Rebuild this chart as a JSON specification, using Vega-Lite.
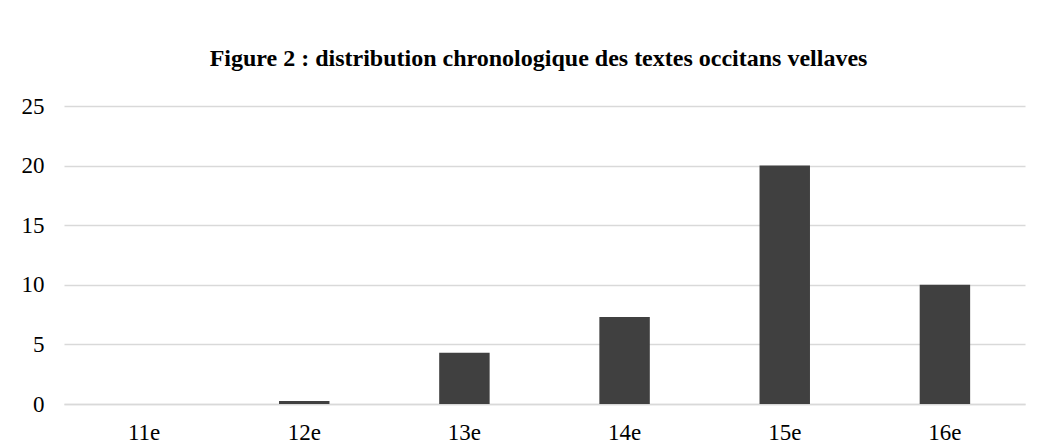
{
  "$schema": "https://vega.github.io/schema/vega-lite/v6.json",
  "autosize": "none",
  "width": 961,
  "height": 298,
  "padding": {"left": 64, "top": 106, "right": 16, "bottom": 44},
  "background": "white",
  "config": {"view": {"stroke": null}, "font": "Times New Roman, Liberation Serif, serif"},
  "title": {
    "text": "Figure 2 : distribution chronologique des textes occitans vellaves",
    "font": "Times New Roman, Liberation Serif, serif",
    "fontSize": 24,
    "fontWeight": "bold",
    "color": "#000000",
    "anchor": "middle",
    "dx": -6,
    "offset": 5,
    "baseline": "alphabetic"
  },
  "data": {
    "values": [
      {"siecle": "11e", "textes": 0},
      {"siecle": "12e", "textes": 0.25},
      {"siecle": "13e", "textes": 4.3},
      {"siecle": "14e", "textes": 7.3},
      {"siecle": "15e", "textes": 20},
      {"siecle": "16e", "textes": 10}
    ]
  },
  "mark": {"type": "bar", "color": "#404040"},
  "encoding": {
    "x": {
      "field": "siecle",
      "type": "ordinal",
      "sort": null,
      "scale": {"paddingInner": 0.685, "paddingOuter": 0.3425},
      "axis": {
        "title": null,
        "labelAngle": 0,
        "labelFont": "Times New Roman, Liberation Serif, serif",
        "labelFontSize": 23,
        "labelColor": "#000000",
        "labelPadding": 17,
        "ticks": false,
        "domain": true,
        "domainColor": "#d9d9d9",
        "domainWidth": 1.5,
        "grid": false
      }
    },
    "y": {
      "field": "textes",
      "type": "quantitative",
      "scale": {"domain": [0, 25], "nice": false},
      "axis": {
        "title": null,
        "values": [0, 5, 10, 15, 20, 25],
        "labelFont": "Times New Roman, Liberation Serif, serif",
        "labelFontSize": 23,
        "labelColor": "#000000",
        "labelPadding": 20,
        "ticks": false,
        "domain": false,
        "grid": true,
        "gridColor": "#d9d9d9",
        "gridWidth": 1.5
      }
    }
  }
}
